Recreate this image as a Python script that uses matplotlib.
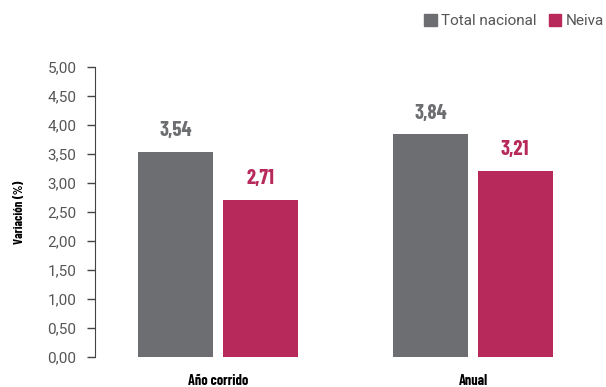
import numpy as np
import matplotlib.pyplot as plt
from matplotlib.patches import Patch

# Datos
categorias = ['Año corrido', 'Anual']
total_nacional = [3.54, 3.84]
neiva = [2.71, 3.21]
series = ['Total nacional', 'Neiva']
colores = ['#6d6e71', '#b7285b']

fig = plt.figure(figsize=(6.06, 3.87), dpi=100)
ax = fig.add_axes([95/606, 30/387, 505/606, 290/387])

cond = ['Barlow Condensed', 'Roboto Condensed', 'Oswald', 'DejaVu Sans']
light = ['Roboto', 'DejaVu Sans']
x = np.arange(len(categorias))
w = 0.294
off = 0.165

for vals, col, d in zip([total_nacional, neiva], colores, [-off, off]):
    bars = ax.bar(x + d, vals, width=w, color=col, zorder=2)
    for b, v in zip(bars, vals):
        ax.text(b.get_x() + b.get_width()/2, v + 0.2, '{:.2f}'.format(v).replace('.', ','),
                ha='center', va='bottom', fontsize=15, fontweight='bold',
                color=col, family=cond)

ax.set_ylim(0, 5)
ax.set_xlim(-0.482, 1.498)
yt = np.arange(0, 5.01, 0.5)
ax.set_yticks(yt)
ax.set_yticklabels(['{:.2f}'.format(t).replace('.', ',') for t in yt],
                   fontsize=11, color='#555555', family=light, fontweight='normal')
ax.set_xticks(x)
ax.set_xticklabels(categorias, fontsize=10.3, fontweight='bold', family=cond)
ax.tick_params(axis='x', length=0, pad=12)
ax.tick_params(axis='y', length=5.8, width=1, color='#444444', pad=7.5)

for s in ['top', 'right', 'bottom']:
    ax.spines[s].set_visible(False)
ax.spines['left'].set_color('#444444')

ax.set_ylabel('Variación (%)', fontsize=9, fontweight='bold', family=cond)
ax.yaxis.set_label_coords(-0.139, 0.5)

handles = [Patch(color=c, label=s) for c, s in zip(colores, series)]
fig.legend(handles=handles, loc='upper right', bbox_to_anchor=(604/606, 1 - 14/387), ncol=2,
           frameon=False, prop={'family': light, 'size': 11, 'weight': 'normal'},
           handlelength=0.8, handleheight=0.8, handletextpad=0.3, columnspacing=0.8,
           borderpad=0, borderaxespad=0, labelcolor='#555555')

fig.savefig('out.png', dpi=100)
